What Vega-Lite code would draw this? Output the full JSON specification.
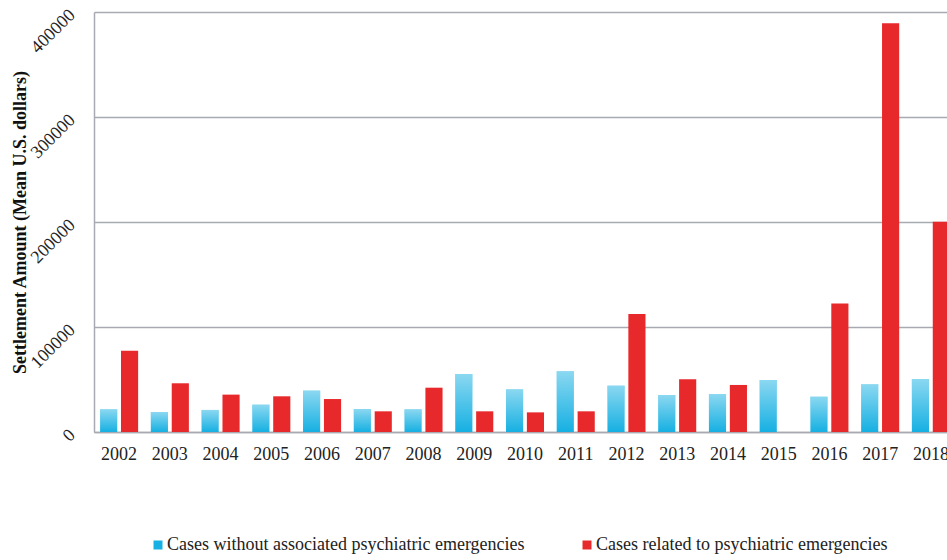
{
  "$schema": "https://vega.github.io/schema/vega-lite/v6.json",
  "width": 853,
  "height": 420,
  "autosize": {"type": "none"},
  "padding": {"left": 94, "top": 12, "right": 0, "bottom": 128},
  "background": "white",
  "config": {"view": {"stroke": null}, "font": "Liberation Serif"},
  "data": {
    "values": [
      {"year": "2002", "series": "Cases without associated psychiatric emergencies", "value": 21600},
      {"year": "2002", "series": "Cases related to psychiatric emergencies", "value": 77400},
      {"year": "2003", "series": "Cases without associated psychiatric emergencies", "value": 19000},
      {"year": "2003", "series": "Cases related to psychiatric emergencies", "value": 46400},
      {"year": "2004", "series": "Cases without associated psychiatric emergencies", "value": 21000},
      {"year": "2004", "series": "Cases related to psychiatric emergencies", "value": 35600},
      {"year": "2005", "series": "Cases without associated psychiatric emergencies", "value": 26000},
      {"year": "2005", "series": "Cases related to psychiatric emergencies", "value": 34000},
      {"year": "2006", "series": "Cases without associated psychiatric emergencies", "value": 39400},
      {"year": "2006", "series": "Cases related to psychiatric emergencies", "value": 31400},
      {"year": "2007", "series": "Cases without associated psychiatric emergencies", "value": 21900},
      {"year": "2007", "series": "Cases related to psychiatric emergencies", "value": 19700},
      {"year": "2008", "series": "Cases without associated psychiatric emergencies", "value": 21600},
      {"year": "2008", "series": "Cases related to psychiatric emergencies", "value": 42200},
      {"year": "2009", "series": "Cases without associated psychiatric emergencies", "value": 55200},
      {"year": "2009", "series": "Cases related to psychiatric emergencies", "value": 19700},
      {"year": "2010", "series": "Cases without associated psychiatric emergencies", "value": 40600},
      {"year": "2010", "series": "Cases related to psychiatric emergencies", "value": 18700},
      {"year": "2011", "series": "Cases without associated psychiatric emergencies", "value": 57800},
      {"year": "2011", "series": "Cases related to psychiatric emergencies", "value": 19700},
      {"year": "2012", "series": "Cases without associated psychiatric emergencies", "value": 44100},
      {"year": "2012", "series": "Cases related to psychiatric emergencies", "value": 112400},
      {"year": "2013", "series": "Cases without associated psychiatric emergencies", "value": 35200},
      {"year": "2013", "series": "Cases related to psychiatric emergencies", "value": 50200},
      {"year": "2014", "series": "Cases without associated psychiatric emergencies", "value": 36200},
      {"year": "2014", "series": "Cases related to psychiatric emergencies", "value": 44800},
      {"year": "2015", "series": "Cases without associated psychiatric emergencies", "value": 49500},
      {"year": "2016", "series": "Cases without associated psychiatric emergencies", "value": 33600},
      {"year": "2016", "series": "Cases related to psychiatric emergencies", "value": 122500},
      {"year": "2017", "series": "Cases without associated psychiatric emergencies", "value": 45400},
      {"year": "2017", "series": "Cases related to psychiatric emergencies", "value": 389200},
      {"year": "2018", "series": "Cases without associated psychiatric emergencies", "value": 50500},
      {"year": "2018", "series": "Cases related to psychiatric emergencies", "value": 200300}
    ]
  },
  "layer": [
    {
      "mark": {"type": "bar"},
      "encoding": {
        "x": {
          "field": "year", "type": "nominal",
          "scale": {"range": [0, 862], "paddingInner": 0.25, "paddingOuter": 0.12},
          "axis": {"title": null, "labelAngle": 0, "labelFontSize": 18, "labelColor": "#222222", "labelPadding": 13, "ticks": false, "domain": true, "domainColor": "#a7aab0", "domainWidth": 1.5, "grid": false}
        },
        "xOffset": {
          "field": "series", "type": "nominal",
          "sort": ["Cases without associated psychiatric emergencies", "Cases related to psychiatric emergencies"],
          "scale": {"paddingInner": 0.18, "paddingOuter": 0}
        },
        "y": {
          "field": "value", "type": "quantitative",
          "scale": {"domain": [0, 400000], "nice": false},
          "axis": {
            "values": [0, 100000, 200000, 300000, 400000], "format": "d",
            "labelAngle": -45, "labelAlign": "right", "labelBaseline": "middle", "labelPadding": 22,
            "labelFontSize": 18, "labelColor": "#222222", "ticks": false,
            "domain": true, "domainColor": "#a7aab0", "domainWidth": 1.5,
            "grid": true, "gridColor": "#a7aab0", "gridWidth": 1.5,
            "title": "Settlement Amount (Mean U.S. dollars)", "titleFontSize": 18, "titleFontWeight": "bold",
            "titleColor": "#111111", "titleX": -74, "titleY": 210, "titleAngle": -90,
            "titleBaseline": "middle", "titleAlign": "center"
          }
        },
        "color": {
          "field": "series", "type": "nominal",
          "scale": {"domain": ["Cases without associated psychiatric emergencies", "Cases related to psychiatric emergencies"], "range": ["#16b0e2", "#e8292b"]},
          "legend": {"orient": "none", "legendX": 55, "legendY": 524, "direction": "horizontal", "title": null, "symbolType": "square", "symbolSize": 81, "labelFontSize": 18, "labelColor": "#222222", "labelOffset": 0, "columnPadding": 53, "padding": 0, "labelLimit": 0, "symbolStrokeWidth": 0, "symbolOpacity": 1}
        }
      }
    },
    {
      "transform": [{"filter": "datum.series === 'Cases without associated psychiatric emergencies'"}],
      "mark": {
        "type": "bar",
        "fill": {"gradient": "linear", "x1": 0, "y1": 0, "x2": 0, "y2": 1, "stops": [{"offset": 0, "color": "rgba(255,255,255,0.5)"}, {"offset": 1, "color": "rgba(255,255,255,0)"}]}
      },
      "encoding": {
        "x": {"field": "year", "type": "nominal"},
        "xOffset": {"field": "series", "type": "nominal", "sort": ["Cases without associated psychiatric emergencies", "Cases related to psychiatric emergencies"]},
        "y": {"field": "value", "type": "quantitative"}
      }
    }
  ]
}
